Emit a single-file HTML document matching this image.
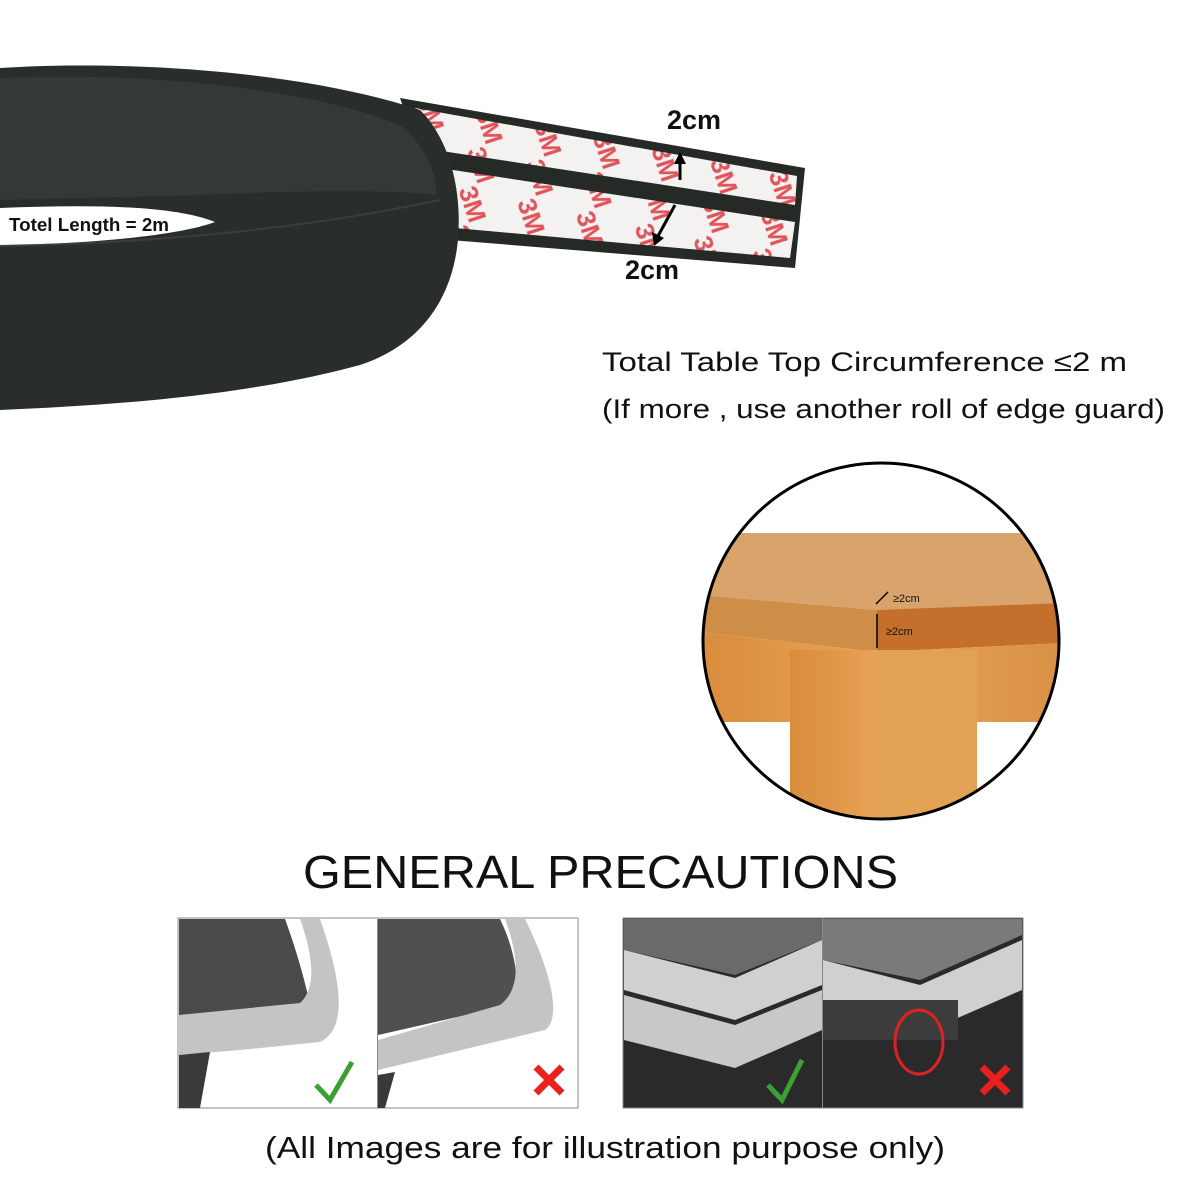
<!DOCTYPE html>
<html><head><meta charset="utf-8"><style>
html,body{margin:0;padding:0;background:#fff}
svg{display:block}
text{font-family:"Liberation Sans",sans-serif}
</style></head><body>
<svg width="1200" height="1200" viewBox="0 0 1200 1200" xmlns="http://www.w3.org/2000/svg">
<defs>
<clipPath id="circ"><circle cx="881" cy="641" r="178"/></clipPath>
<pattern id="tape" width="60" height="40" patternUnits="userSpaceOnUse" patternTransform="rotate(12)">
<rect width="60" height="40" fill="#f4f1f1"/>
<text x="8" y="30" font-size="26" font-weight="bold" fill="#e0545a" transform="rotate(60 25 20)">3M</text>
</pattern>
<linearGradient id="wood" x1="0" y1="0" x2="1" y2="0"><stop offset="0" stop-color="#d98c3c"/><stop offset="0.5" stop-color="#e9a458"/><stop offset="1" stop-color="#d89044"/></linearGradient>
</defs>

<!-- strip -->
<path d="M400 98 L805 168 L795 268 L450 240 Z" fill="#262a27"/>
<path d="M415 108 L797 176 L795 205 L435 150 Z" fill="url(#tape)"/>
<path d="M440 168 L795 222 L790 258 L455 228 Z" fill="url(#tape)"/>

<!-- roll -->
<path d="M0 68 C120 60 300 70 420 110 C450 140 462 190 458 240 C452 300 420 345 360 365 C250 395 120 405 0 410 Z" fill="#2a2e2b"/>
<path d="M0 78 C130 72 300 85 400 125 C425 145 438 175 436 195 C400 190 300 190 200 195 L0 200 Z" fill="#353936"/>
<path d="M0 208 C80 205 170 204 215 222 C180 235 100 243 0 246 Z" fill="#fff"/>
<path d="M0 246 C150 243 300 230 440 200" fill="none" stroke="#3a3e3b" stroke-width="2"/>
<text x="9" y="231" font-size="18" font-weight="bold" fill="#111" textLength="160" lengthAdjust="spacingAndGlyphs">Totel Length = 2m</text>

<!-- arrows -->
<line x1="680" y1="180" x2="680" y2="160" stroke="#000" stroke-width="3"/>
<path d="M674 164 L680 152 L686 164 Z"/>
<line x1="675" y1="205" x2="658" y2="236" stroke="#000" stroke-width="3"/>
<path d="M652 232 L654 246 L664 238 Z"/>
<text x="667" y="129" font-size="27" font-weight="bold" fill="#111">2cm</text>
<text x="625" y="279" font-size="27" font-weight="bold" fill="#111">2cm</text>

<text x="602" y="371" font-size="27" fill="#111" textLength="525" lengthAdjust="spacingAndGlyphs">Total Table Top Circumference  ≤2 m</text>
<text x="602" y="418" font-size="27" fill="#111" textLength="563" lengthAdjust="spacingAndGlyphs">(If more , use another roll of edge guard)</text>

<!-- circle table -->
<g clip-path="url(#circ)">
<rect x="700" y="460" width="370" height="370" fill="#fff"/>
<polygon points="700,533 1065,533 1065,605 877,610 700,595" fill="#d9a46c"/>
<polygon points="700,595 877,610 877,652 700,632" fill="#cf8e48"/>
<polygon points="877,610 1065,603 1065,643 877,652" fill="#c46f2c"/>
<polygon points="700,632 877,652 1065,643 1065,722 700,722" fill="url(#wood)"/>
<rect x="790" y="650" width="187" height="190" fill="url(#wood)"/>
<rect x="877" y="650" width="100" height="190" fill="#e3a253"/>
</g>
<circle cx="881" cy="641" r="178" fill="none" stroke="#000" stroke-width="3"/>
<line x1="877" y1="614" x2="877" y2="648" stroke="#000" stroke-width="1.5"/>
<line x1="876" y1="604" x2="888" y2="592" stroke="#000" stroke-width="1.5"/>
<text x="893" y="602" font-size="11" fill="#111">≥2cm</text>
<text x="886" y="635" font-size="11" fill="#111">≥2cm</text>

<text x="303" y="888" font-size="46" fill="#111" textLength="595" lengthAdjust="spacingAndGlyphs">GENERAL PRECAUTIONS</text>

<!-- panels left -->
<rect x="178" y="918" width="400" height="190" fill="#fff" stroke="#888"/>
<path d="M179 919 L285 919 C300 960 310 1000 315 1030 L179 1030 Z" fill="#4a4a4a"/>
<path d="M179 1015 L300 1003 C315 990 315 960 300 919 L320 919 C345 990 345 1030 320 1042 L240 1050 L179 1055 Z" fill="#c4c4c4"/>
<path d="M179 1055 L210 1052 L200 1108 L179 1108 Z" fill="#3a3a3a"/>
<rect x="377" y="919" width="1" height="189" fill="#888"/>
<path d="M378 919 L500 919 C520 960 520 1000 510 1005 L378 1035 Z" fill="#505050"/>
<path d="M378 1040 L500 1005 C520 990 520 960 505 919 L525 919 C555 980 560 1020 545 1030 L378 1070 Z" fill="#c4c4c4"/>
<path d="M378 1075 L395 1072 L385 1108 L378 1108 Z" fill="#3a3a3a"/>
<path d="M316 1085 L330 1100 L352 1062" stroke="#3aa033" stroke-width="5" fill="none"/>
<path d="M536 1067 L562 1093 M562 1067 L536 1093" stroke="#e82020" stroke-width="7"/>

<!-- panels right -->
<rect x="623" y="918" width="400" height="190" fill="#2a2a2a" stroke="#888"/>
<path d="M624 919 L822 919 L822 940 L735 975 L624 950 Z" fill="#6a6a6a"/>
<path d="M624 950 L735 978 L822 940 L822 985 L735 1020 L624 990 Z" fill="#d0d0d0"/>
<path d="M624 995 L735 1025 L822 990 L822 1030 L735 1068 L624 1040 Z" fill="#c8c8c8"/>
<path d="M823 919 L1022 919 L1022 935 L920 980 L823 960 Z" fill="#7a7a7a"/>
<path d="M823 960 L920 985 L1022 940 L1022 990 L930 1030 L823 1000 Z" fill="#d0d0d0"/>
<rect x="823" y="1000" width="135" height="40" fill="#3c3c3c"/>
<rect x="822" y="918" width="1" height="190" fill="#888"/>
<ellipse cx="919" cy="1042" rx="24" ry="32" fill="none" stroke="#d22" stroke-width="3"/>
<path d="M768 1085 L782 1100 L802 1060" stroke="#3aa033" stroke-width="5" fill="none"/>
<path d="M982 1067 L1008 1093 M1008 1067 L982 1093" stroke="#e82020" stroke-width="7"/>

<text x="265" y="1158" font-size="31" fill="#111" textLength="680" lengthAdjust="spacingAndGlyphs">(All Images are for illustration purpose only)</text>
</svg>
</body></html>
